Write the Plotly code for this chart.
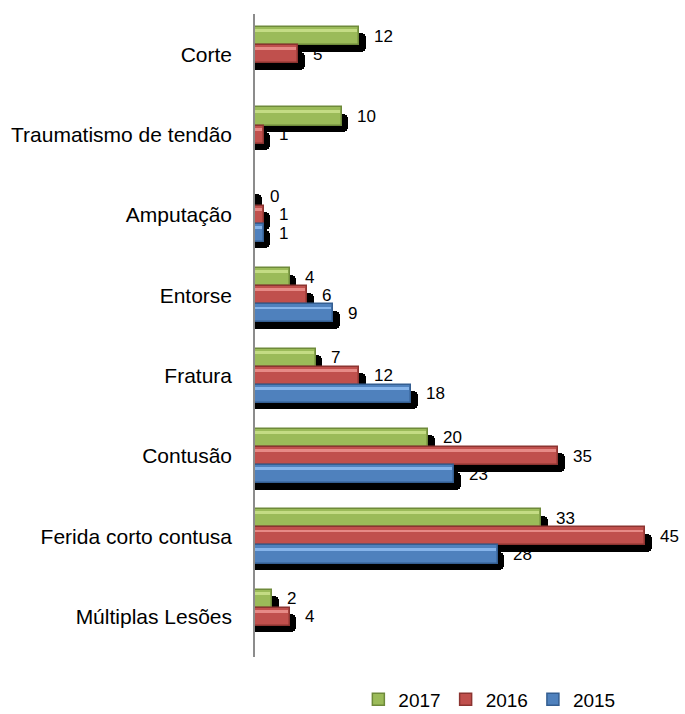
import plotly.graph_objects as go

# Injury types, top to bottom
categories = [
    "Corte",
    "Traumatismo de tendão",
    "Amputação",
    "Entorse",
    "Fratura",
    "Contusão",
    "Ferida corto contusa",
    "Múltiplas Lesões",
]
years = ["2017", "2016", "2015"]
values_2017 = [12, 10, 0, 4, 7, 20, 33, 2]
values_2016 = [5, 1, 1, 6, 12, 35, 45, 4]
values_2015 = [None, None, 1, 9, 18, 23, 28, None]

series = [values_2017, values_2016, values_2015]
fills = ["#9bbb59", "#c0504d", "#4f81bd"]
edges = ["#6e8a3a", "#8c3431", "#345e91"]
highlights = ["#c4dc84", "#e68a86", "#86b4ea"]

FONT = "Liberation Sans, Arial, sans-serif"

bar_w = 0.225          # thickness of one bar, in category units
offsets = [-bar_w, 0.0, bar_w]
shadow_dx = 0.75       # drop-shadow shift along the value axis
shadow_dy = 0.08       # drop-shadow shift along the category axis

fig = go.Figure()

# drop shadows behind every bar
for vals, off in zip(series, offsets):
    ys = [i + off + shadow_dy for i in range(len(categories))]
    xs = [None if v is None else v + shadow_dx for v in vals]
    fig.add_trace(go.Bar(
        x=xs, y=ys, orientation="h", width=bar_w,
        marker=dict(color="black", line=dict(width=0), cornerradius=5),
        showlegend=False, hoverinfo="skip",
    ))

# the bars themselves
for name, vals, off, fc, ec in zip(years, series, offsets, fills, edges):
    ys = [i + off for i in range(len(categories))]
    fig.add_trace(go.Bar(
        x=vals, y=ys, orientation="h", width=bar_w, name=name,
        marker=dict(color=fc, line=dict(color=ec, width=1.5)),
    ))

# light bevel strip along the upper edge of each bar
for vals, off, hc in zip(series, offsets, highlights):
    ys = [i + off - bar_w * 0.3 for i in range(len(categories))]
    xs = [None if (v is None or v == 0) else max(v - 0.25, 0) for v in vals]
    fig.add_trace(go.Bar(
        x=xs, y=ys, orientation="h", width=bar_w * 0.16,
        marker=dict(color=hc, line=dict(width=0)),
        showlegend=False, hoverinfo="skip",
    ))

# value labels
annotations = []
for vals, off in zip(series, offsets):
    for i, v in enumerate(vals):
        if v is None:
            continue
        annotations.append(dict(
            x=v, y=i + off, xref="x", yref="y", text=str(v),
            showarrow=False, xanchor="left", yanchor="middle",
            xshift=14, yshift=0, borderpad=0,
            font=dict(family=FONT, size=17, color="black"),
        ))

fig.update_layout(
    width=685, height=714,
    margin=dict(l=255, r=0, t=14, b=57, autoexpand=False),
    paper_bgcolor="white", plot_bgcolor="white",
    barmode="overlay", bargap=0,
    font=dict(family=FONT, size=21, color="black"),
    showlegend=True,
    legend=dict(
        orientation="h", x=0.545, xanchor="center", y=-0.066, yanchor="middle",
        font=dict(size=19), traceorder="normal",
        bgcolor="rgba(0,0,0,0)",
    ),
    annotations=annotations,
    xaxis=dict(
        range=[0, 49.6], showgrid=False, zeroline=False, showline=False,
        showticklabels=False, ticks="", fixedrange=True,
    ),
    yaxis=dict(
        range=[len(categories) - 0.5, -0.5],
        tickmode="array", tickvals=list(range(len(categories))), ticktext=categories,
        showgrid=False, zeroline=False, showline=True, linecolor="#8c8c8c", linewidth=1.5,
        ticks="", ticklabelstandoff=17, tickfont=dict(size=21),
    ),
)

fig.write_html("out.html")
